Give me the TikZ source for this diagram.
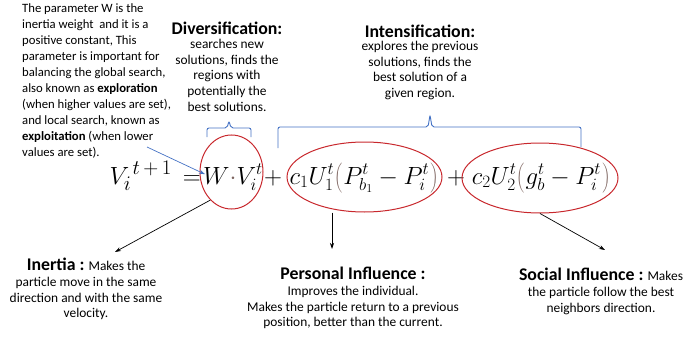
\documentclass[tikz,border=0pt]{standalone}
\usepackage{fontspec}
\setmainfont{Carlito}
\usepackage{tikz}
\usetikzlibrary{shapes.geometric,arrows.meta,calc}
\definecolor{ellred}{RGB}{200,40,45}
\definecolor{braceblue}{RGB}{68,114,196}
\definecolor{parbrown}{RGB}{125,100,95}
\newcommand{\bodyfont}{\fontsize{13.4}{15.7}\selectfont}
\newcommand{\headfont}{\fontsize{17.8}{20}\selectfont\bfseries}

\begin{document}
\begin{tikzpicture}[x=1pt,y=-1pt,
    txt/.style={inner sep=0pt, align=center, font=\bodyfont},
    head/.style={inner sep=0pt, font=\headfont},
    ell/.style={draw=ellred, line width=1pt, ellipse, inner sep=0pt},
    arr/.style={-{Stealth[length=6pt,width=4pt]}, line width=0.7pt},
    bracket/.style={draw=braceblue, line width=0.9pt, rounded corners=2pt},
    eq/.style={inner sep=0pt, anchor=base, font=\fontsize{24}{28}\selectfont}]
\useasboundingbox (0,0) rectangle (683,337);

% explanation of W
\node[txt, align=left, anchor=north west, font=\fontsize{12.7}{16}\selectfont] (info) at (22,3)
    {The parameter W is the\\ inertia weight\ \ and it is a\\ positive constant, This\\
     parameter is important for\\ balancing the global search,\\
     also known as \textbf{exploration}\\ (when higher values are set),\\
     and local search, known as\\ \textbf{exploitation} (when lower\\ values are set).};

% top headings
\node[head] (divHead) at (227,28) {Diversification:};
\node[txt, anchor=north] (divText) at (227,39)
    {searches new\\ solutions, finds the\\ regions with\\ potentially the\\ best solutions.};
\node[head] (intHead) at (420,31) {Intensification:};
\node[txt, anchor=north] (intText) at (420,41)
    {explores the previous\\ solutions, finds the\\ best solution of a\\ given region.};

% braces
\draw[bracket] (207,137) -- (207,128) -- (227,128) -- (229,121) -- (231,128) -- (251,128) -- (251,137);
\draw[bracket] (278,148) -- (278,127) -- (428,127) -- (430,115) -- (432,127) -- (581,127) -- (581,147);

% equation
\node[eq, anchor=base east, font=\fontsize{29}{32}\selectfont] (eqV) at (201,184) {$V_i^{\,t\,+\,1}\,=$};
\node[eq] (eqW) at (233,184) {$W{\color{parbrown}\cdot}V_i^t$};
\node[eq] (plusA) at (273,184) {$+$};
\node[eq] (eqPers) at (364,184)
    {$c_1U_1^t{\color{parbrown}\left(\vphantom{P_{b_1}^t}\right.}P_{b_1}^t - P_i^t{\color{parbrown}\left.\vphantom{P_{b_1}^t}\right)}$};
\node[eq] (plusB) at (456,184) {$+$};
\node[eq] (eqSoc) at (541,184)
    {$c_2U_2^t{\color{parbrown}\left(\vphantom{P_{b_1}^t}\right.}g_b^t - P_i^t{\color{parbrown}\left.\vphantom{P_{b_1}^t}\right)}$};

% circled terms
\node[ell, minimum width=63, minimum height=74] (ellW) at (231.5,172) {};
\node[ell, minimum width=155, minimum height=70] (ellPers) at (364.5,177) {};
\node[ell, minimum width=156, minimum height=70] (ellSoc) at (540,178) {};

% bottom explanations
\node[txt, anchor=north] (inertia) at (86,258)
    {{\headfont Inertia :} Makes the\\ particle move in the same\\ direction and with the same\\ velocity.};
\node[txt, anchor=north] (personal) at (353,267)
    {{\headfont Personal Influence :}\\ Improves the individual.\\
     Makes the particle return to a previous\\ position, better than the current.};
\node[txt, anchor=north] (social) at (601,268)
    {{\headfont Social Influence :} Makes\\ the particle follow the best\\ neighbors direction.};

% connectors
\coordinate (blueStart) at (147,147);
\coordinate (inTip) at (115,252);
\coordinate (persTip) at (332,249);
\coordinate (socTip) at (605,250);
\draw[arr, braceblue] (blueStart) -- ($(eqW.west)+(2,-3)$);
\draw[arr] (ellW.233) -- (inTip);
\draw[arr] (persTip |- ellPers.south) -- (persTip);
\draw[arr] (ellSoc.south) -- (socTip);
\end{tikzpicture}
\end{document}
